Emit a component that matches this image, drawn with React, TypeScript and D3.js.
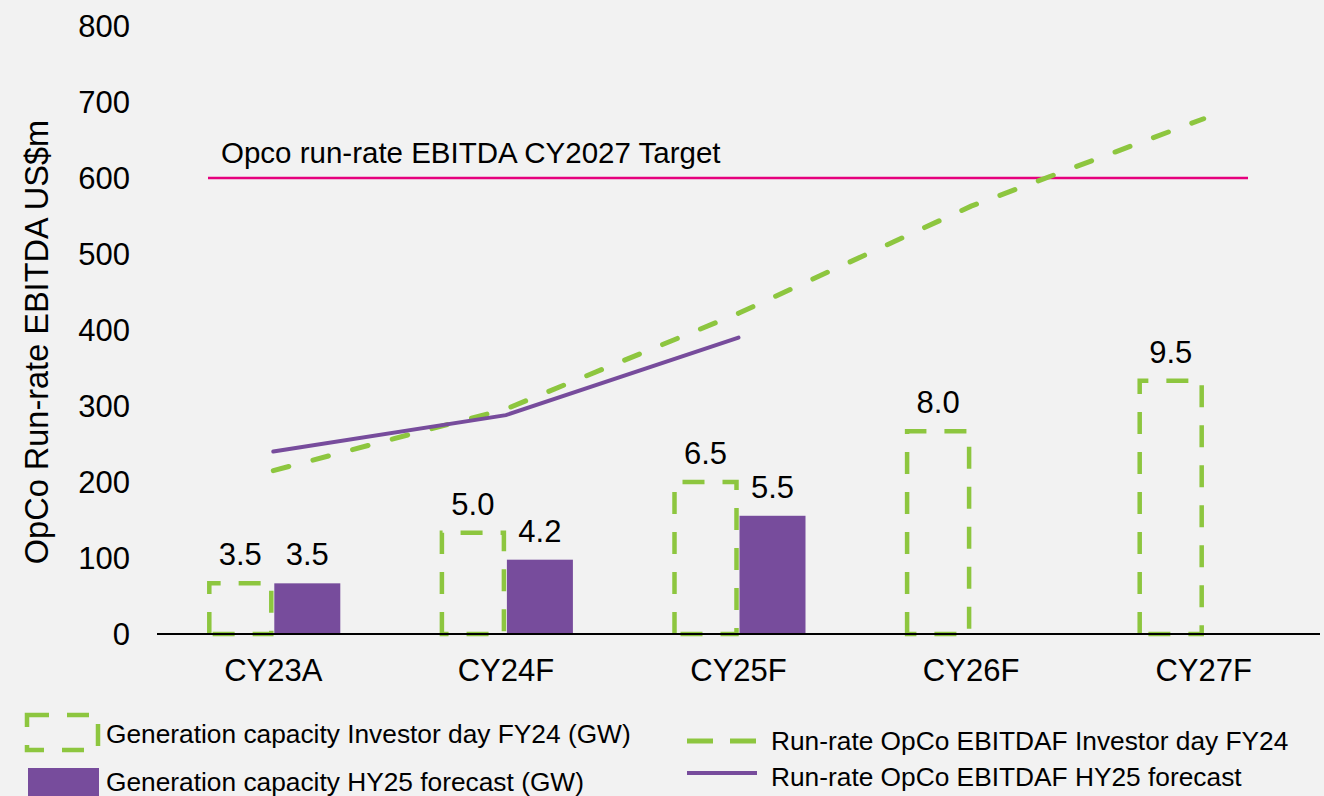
import React from "react";
import * as d3 from "d3";

const categories = ["CY23A", "CY24F", "CY25F", "CY26F", "CY27F"];
const capacityInvestorDay = [3.5, 5.0, 6.5, 8.0, 9.5];
const capacityHY25 = [3.5, 4.2, 5.5];
const ebitdaInvestorDay = [215, 296, 422, 563, 678];
const ebitdaHY25 = [240, 288, 390];
const yTicks = [0, 100, 200, 300, 400, 500, 600, 700, 800];
const targetValue = 600;
const targetLabel = "Opco run-rate EBITDA CY2027 Target";
const yTitle = "OpCo Run-rate EBITDA US$m";
const legendLabels = [
  "Generation capacity Investor day FY24 (GW)",
  "Generation capacity HY25 forecast (GW)",
  "Run-rate OpCo EBITDAF Investor day FY24",
  "Run-rate OpCo EBITDAF HY25 forecast",
];

const W = 1324;
const H = 796;
const GREEN = "#8DC63F";
const PURPLE = "#774C9C";
const PINK = "#E6007E";
const FONT = "'Liberation Sans', Arial, sans-serif";

export default function App() {
  const x = d3.scaleBand<string>().domain(categories).range([157, 1320]);
  const y = d3.scaleLinear().domain([0, 800]).range([634, 26]);
  const y2 = d3.scaleLinear().domain([2, 20]).range([634, 26]);
  const cx = (c: string) => (x(c) as number) + x.bandwidth() / 2;
  const barW = 66;

  const lineGen = d3
    .line<number>()
    .x((_, i) => cx(categories[i]))
    .y((d) => y(d));

  const dash = "22,18";

  return (
    <svg
      width={W}
      height={H}
      style={{ position: "absolute", left: 0, top: 0, background: "#F2F2F2" }}
      fontFamily={FONT}
    >
      <rect x={0} y={0} width={W} height={H} fill="#F2F2F2" />

      {/* y ticks */}
      {yTicks.map((t) => (
        <text key={t} x={130} y={y(t)} dy="0.36em" textAnchor="end" fontSize={31} fill="#000">
          {t}
        </text>
      ))}

      {/* y title */}
      <text
        transform={`translate(48, ${(y(0) + y(800)) / 2 + 12}) rotate(-90)`}
        textAnchor="middle"
        fontSize={32.5}
        fill="#000"
      >
        {yTitle}
      </text>

      {/* target line */}
      <line x1={208} x2={1248} y1={y(targetValue)} y2={y(targetValue)} stroke={PINK} strokeWidth={2.5} />
      <text x={221} y={y(targetValue) - 15} fontSize={29.5} fill="#000">
        {targetLabel}
      </text>

      {/* investor day capacity bars (dashed outline) */}
      {capacityInvestorDay.map((v, i) => {
        const c = cx(categories[i]);
        const x0 = c - barW + 2;
        const x1 = c - 2;
        const yt = y2(v);
        const yb = y(0);
        return (
          <g key={"g" + i}>
            <path
              d={`M${x0},${yb} L${x0},${yt} L${x1},${yt} L${x1},${yb} Z`}
              fill="none"
              stroke={GREEN}
              strokeWidth={4.5}
              strokeDasharray={dash}
            />
            <text x={c - barW / 2} y={yt - 18} textAnchor="middle" fontSize={31} fill="#000">
              {v.toFixed(1)}
            </text>
          </g>
        );
      })}

      {/* HY25 capacity bars */}
      {capacityHY25.map((v, i) => {
        const c = cx(categories[i]);
        const yt = y2(v);
        return (
          <g key={"p" + i}>
            <rect x={c + 1} y={yt} width={barW} height={y(0) - yt} fill={PURPLE} />
            <text x={c + 1 + barW / 2} y={yt - 18} textAnchor="middle" fontSize={31} fill="#000">
              {v.toFixed(1)}
            </text>
          </g>
        );
      })}

      {/* x axis */}
      <line x1={157} x2={1320} y1={y(0)} y2={y(0)} stroke="#000" strokeWidth={2} />
      {categories.map((c) => (
        <text key={c} x={cx(c)} y={y(0) + 47} textAnchor="middle" fontSize={31} fill="#000">
          {c}
        </text>
      ))}

      {/* lines */}
      <path
        d={lineGen(ebitdaInvestorDay) || ""}
        fill="none"
        stroke={GREEN}
        strokeWidth={5}
        strokeLinecap="round"
        strokeDasharray="16,25"
      />
      <path
        d={lineGen(ebitdaHY25) || ""}
        fill="none"
        stroke={PURPLE}
        strokeWidth={4}
        strokeLinecap="round"
      />

      {/* legend */}
      <rect
        x={27}
        y={715}
        width={71}
        height={35}
        fill="none"
        stroke={GREEN}
        strokeWidth={4.5}
        strokeDasharray={dash}
      />
      <text x={106} y={743} fontSize={26.3} fill="#000">
        {legendLabels[0]}
      </text>
      <rect x={28} y={768} width={71} height={30} fill={PURPLE} />
      <text x={106} y={791} fontSize={26.3} fill="#000">
        {legendLabels[1]}
      </text>

      <line x1={687} x2={756} y1={741} y2={741} stroke={GREEN} strokeWidth={5} strokeDasharray="26,17" />
      <text x={771} y={750} fontSize={26.3} fill="#000">
        {legendLabels[2]}
      </text>
      <line x1={687} x2={757} y1={773} y2={773} stroke={PURPLE} strokeWidth={4} />
      <text x={771} y={786} fontSize={26.3} fill="#000">
        {legendLabels[3]}
      </text>
    </svg>
  );
}
